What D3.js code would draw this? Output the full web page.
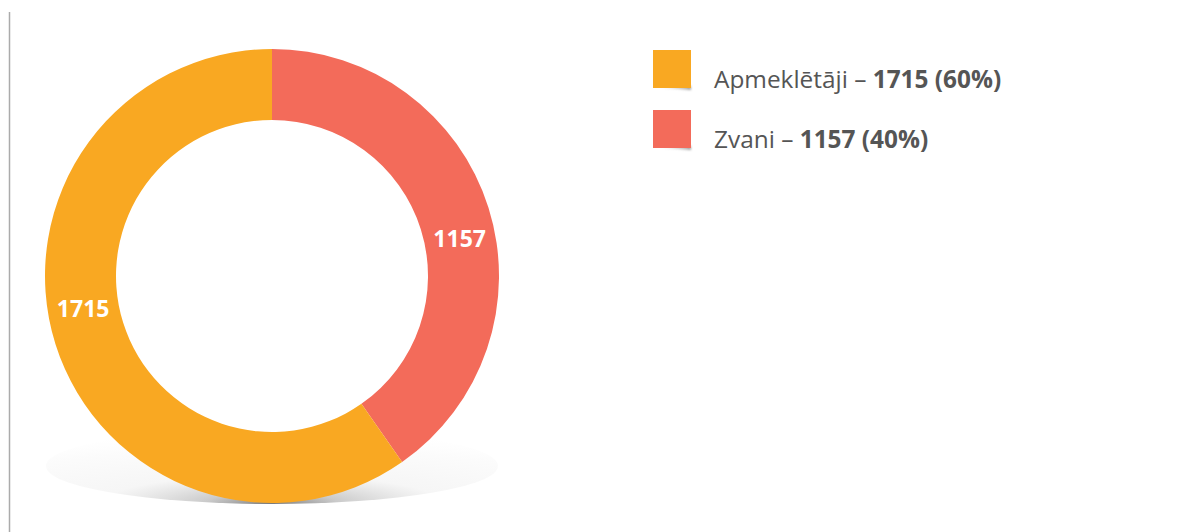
<!DOCTYPE html>
<html><head><meta charset="utf-8">
<script src="https://cdn.jsdelivr.net/npm/d3@7"></script>
<style>html,body{margin:0;padding:0;background:#fff;}svg{display:block;}</style>
</head><body>
<script>
const categories = ["Zvani", "Apmeklētāji"];
const values = [1157, 1715];
const percents = ["40%", "60%"];
const colors = ["#F36B5A", "#F9A822"];
const legendOrder = ["Apmeklētāji", "Zvani"];

const W = 1203, H = 532;
const svg = d3.select("body").append("svg").attr("width", W).attr("height", H);
const defs = svg.append("defs");

// left border line
svg.append("line").attr("x1", 9.5).attr("x2", 9.5).attr("y1", 12).attr("y2", H)
  .attr("stroke", "#ababab").attr("stroke-width", 1.5);

const cx = 272, cy = 276, R = 227, r = 156;

// shadow under donut
const rg = defs.append("radialGradient").attr("id", "shadow")
  .attr("cx", "50%").attr("cy", "100%").attr("r", "100%").attr("fx", "50%").attr("fy", "100%");
rg.append("stop").attr("offset", "0%").attr("stop-color", "#6f6f6f").attr("stop-opacity", 0.95);
rg.append("stop").attr("offset", "15%").attr("stop-color", "#b5b5b5").attr("stop-opacity", 0.7);
rg.append("stop").attr("offset", "38%").attr("stop-color", "#ededed").attr("stop-opacity", 0.5);
rg.append("stop").attr("offset", "75%").attr("stop-color", "#f8f8f8").attr("stop-opacity", 0.5);
rg.append("stop").attr("offset", "100%").attr("stop-color", "#ffffff").attr("stop-opacity", 0);
svg.append("ellipse").attr("cx", cx).attr("cy", 466).attr("rx", 226).attr("ry", 38)
  .attr("fill", "url(#shadow)");

const g = svg.append("g").attr("transform", `translate(${cx},${cy})`);
const pie = d3.pie().sort(null).value(d => d)(values);
const arc = d3.arc().innerRadius(r).outerRadius(R);
g.selectAll("path.slice").data(pie).enter().append("path").attr("class", "slice")
  .attr("d", arc).attr("fill", (d, i) => colors[i]);

// labels: placed in ring, angle nudged toward horizontal
const labelShift = [6, 8].map(v => v * Math.PI / 180);
const lr = (R + r) / 2;
g.selectAll("text.lbl").data(pie).enter().append("text").attr("class", "lbl")
  .attr("x", (d, i) => lr * Math.sin((d.startAngle + d.endAngle) / 2 + labelShift[i]))
  .attr("y", (d, i) => -lr * Math.cos((d.startAngle + d.endAngle) / 2 + labelShift[i]))
  .attr("text-anchor", "middle").attr("dominant-baseline", "central")
  .attr("font-family", "Open Sans").attr("font-weight", "bold").attr("font-size", 23)
  .attr("fill", "#fff").text(d => d.data);

// legend
const sg = defs.append("linearGradient").attr("id", "curl").attr("x1", "0").attr("x2", "1");
sg.append("stop").attr("offset", "0%").attr("stop-color", "#999").attr("stop-opacity", 0);
sg.append("stop").attr("offset", "100%").attr("stop-color", "#888").attr("stop-opacity", 0.8);
const fl = defs.append("filter").attr("id", "blur").attr("x", "-20%").attr("y", "-50%").attr("width", "140%").attr("height", "200%");
fl.append("feGaussianBlur").attr("stdDeviation", 1.2);

const lg = svg.append("g");
legendOrder.forEach((name, k) => {
  const i = categories.indexOf(name);
  const y0 = 50 + k * 60;
  lg.append("path")
    .attr("d", `M${653 + 8},${y0 + 37} L${691},${y0 + 36} L${691},${y0 + 40} Q${680},${y0 + 39} ${661},${y0 + 38} Z`)
    .attr("fill", "url(#curl)").attr("filter", "url(#blur)");
  lg.append("rect").attr("x", 653).attr("y", y0).attr("width", 38).attr("height", 38)
    .attr("fill", colors[i]);
  const t = lg.append("text").attr("x", 714).attr("y", y0 + 38)
    .attr("font-family", "Open Sans").attr("font-size", 24.4).attr("fill", "#555");
  t.append("tspan").text(name + " – ");
  t.append("tspan").attr("font-weight", "bold").text(`${values[i]} (${percents[i]})`);
});
</script>
</body></html>
